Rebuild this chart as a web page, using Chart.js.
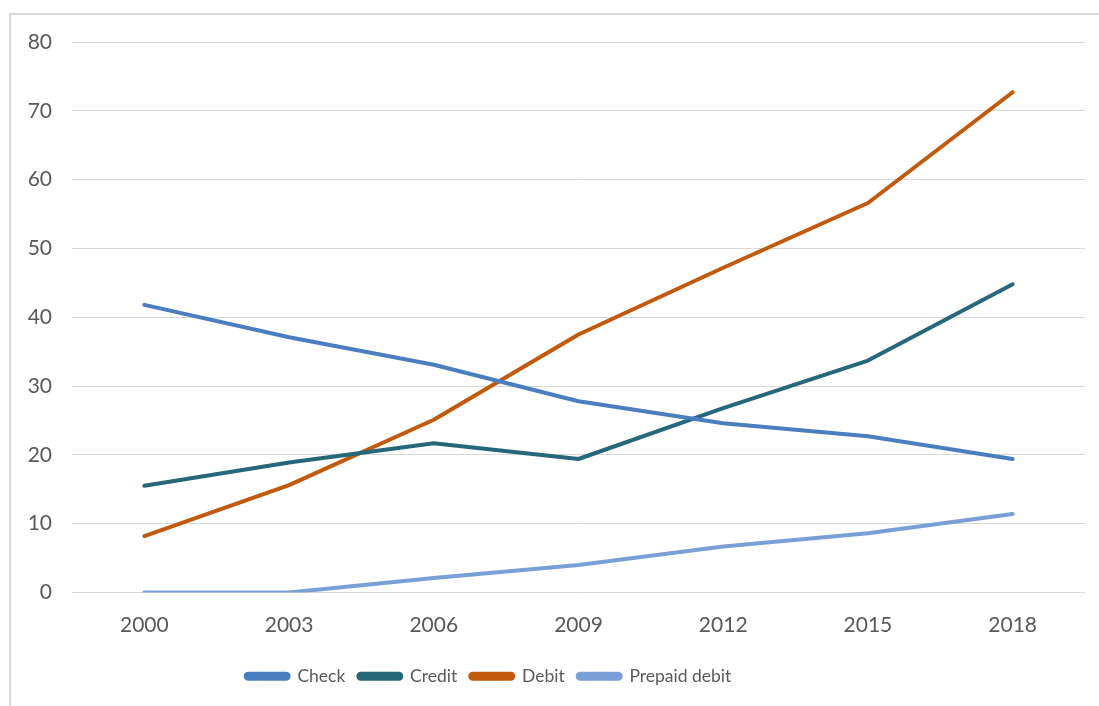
<!DOCTYPE html>
<html>
<head>
<meta charset="utf-8">
<script src="https://cdn.jsdelivr.net/npm/chart.js@4"></script>
<style>
  html, body { margin: 0; padding: 0; background: #fff; overflow: hidden; }
  #frame { position: absolute; left: 9px; top: 13px; width: 1200px; height: 800px;
           border: 2px solid #d9d9d9; box-sizing: border-box; }
  #wrap { position: absolute; left: 0; top: 0; width: 1099px; height: 706px; }
</style>
</head>
<body>
<div id="frame"></div>
<div id="wrap"><canvas id="chart" width="1099" height="706"></canvas></div>
<script>
// Years on the x axis
const years = ['2000', '2003', '2006', '2009', '2012', '2015', '2018'];

// Values
const checkValues   = [41.8, 37.1, 33.1, 27.8, 24.6, 22.7, 19.4];
const creditValues  = [15.5, 18.9, 21.7, 19.4, 26.8, 33.7, 44.8];
const debitValues   = [8.2, 15.6, 25.1, 37.5, 47.2, 56.6, 72.7];
const prepaidValues = [0, 0, 2.1, 4.0, 6.7, 8.6, 11.4];

const yTicks = [0, 10, 20, 30, 40, 50, 60, 70, 80];

const font = "Lato, 'Open Sans', sans-serif";

function line(label, data, color) {
    return {
        label: label,
        data: data,
        borderColor: color,
        backgroundColor: color,
        borderWidth: 4,
        borderCapStyle: 'round',
        borderJoinStyle: 'round',
        pointRadius: 0,
        pointHoverRadius: 0,
        tension: 0,
        fill: false
    };
}

// legend in the original sits a bit left of the canvas centre
const shiftLegend = {
    id: 'shiftLegend',
    afterLayout: function (chart) {
        if (chart.legend) chart.legend.right -= 108;
    }
};

const ctx = document.getElementById('chart').getContext('2d');
new Chart(ctx, {
    type: 'line',
    data: {
        labels: years,
        datasets: [
            line('Check', checkValues, '#4a7ebf'),
            line('Credit', creditValues, '#26677a'),
            line('Debit', debitValues, '#c25a0e'),
            line('Prepaid debit', prepaidValues, '#799fd6')
        ]
    },
    plugins: [shiftLegend],
    options: {
        responsive: false,
        animation: false,
        layout: { padding: { top: 42, right: 14, left: 0, bottom: 11 } },
        plugins: {
            tooltip: { enabled: false },
            legend: {
                display: true,
                position: 'bottom',
                labels: {
                    boxWidth: 43,
                    boxHeight: 5,
                    useBorderRadius: true,
                    borderRadius: 2.5,
                    padding: 13,
                    color: '#595959',
                    font: { family: font, size: 17.5 }
                }
            }
        },
        scales: {
            x: {
                offset: true,
                grid: { display: false, drawTicks: false },
                border: { display: false },
                ticks: { color: '#595959', padding: 20, font: { family: font, size: 21 } },
                afterFit: function (scale) { scale.height = 62; }
            },
            y: {
                min: 0,
                max: 80,
                afterBuildTicks: function (scale) {
                    scale.ticks = yTicks.map(v => ({ value: v }));
                },
                grid: { color: '#d9d9d9', lineWidth: 1, drawTicks: false },
                border: { display: false },
                ticks: { color: '#595959', padding: 20, font: { family: font, size: 21 } },
                afterFit: function (scale) { scale.width = 72; }
            }
        }
    }
});
</script>
</body>
</html>
